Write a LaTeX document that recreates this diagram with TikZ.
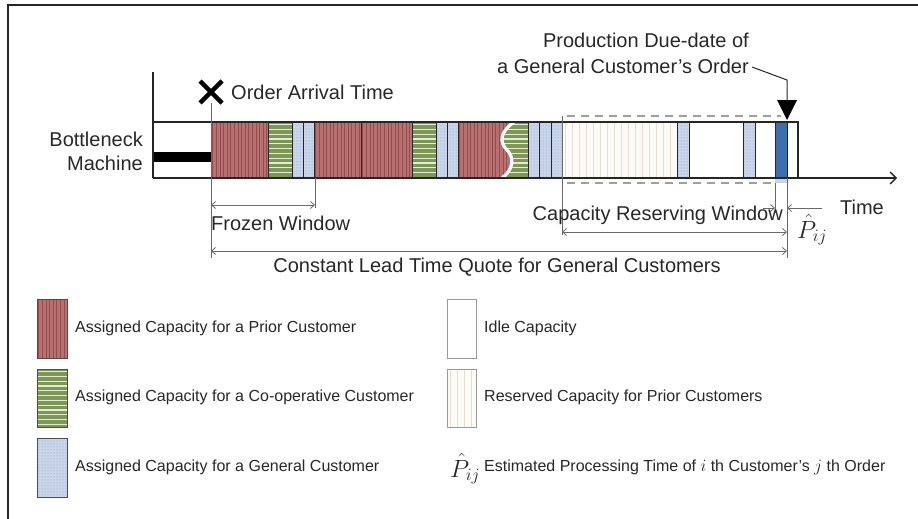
\documentclass[tikz,border=0pt]{standalone}
\usepackage{fontspec}
\setmainfont{Liberation Sans}
\usetikzlibrary{arrows.meta,patterns}
\definecolor{redF}{RGB}{184,112,112}
\definecolor{redL}{RGB}{148,76,76}
\definecolor{greenF}{RGB}{126,150,86}
\definecolor{greenL}{RGB}{226,236,210}
\definecolor{blueF}{RGB}{200,213,234}
\definecolor{blueP}{RGB}{140,158,192}
\definecolor{blueD}{RGB}{62,110,176}
\definecolor{resF}{RGB}{253,251,247}
\definecolor{resL}{RGB}{234,222,210}
\definecolor{dimc}{RGB}{105,105,105}
\definecolor{txt}{RGB}{40,40,40}
\tikzset{
  bigtxt/.style={font=\fontsize{20}{26}\selectfont, inner sep=0pt, text=txt},
  legtxt/.style={font=\fontsize{16}{19}\selectfont, inner sep=0pt, anchor=west, text=txt},
  symtxt/.style={font=\fontsize{24}{24}\selectfont, inner sep=0pt, text=txt},
  dimln/.style={draw=dimc, line width=0.8},
  dimarr/.style={dimln, {Straight Barb[length=4pt,width=7pt]}-{Straight Barb[length=4pt,width=7pt]}},
  dimto/.style={dimln, -{Straight Barb[length=4pt,width=7pt]}},
  segline/.style={draw=black!85, line width=1},
  swline/.style={draw=black!70, line width=1},
}
\newcommand\RedBox[4]{%
  \begin{scope}
    \clip (#1,#2) rectangle (#3,#4);
    \fill[redF] (#1,#2) rectangle (#3,#4);
    \foreach \kk in {0,...,17}{\draw[redL, line width=0.7] ({#1+1.8+3.6*\kk},#2) -- ({#1+1.8+3.6*\kk},#4);}
  \end{scope}}
\newcommand\GreenBox[4]{%
  \begin{scope}
    \clip (#1,#2) rectangle (#3,#4);
    \fill[greenF] (#1,#2) rectangle (#3,#4);
    \foreach \kk in {0,...,13}{\draw[greenL, line width=1.1] (#1,{#2+2.6+4.8*\kk}) -- (#3,{#2+2.6+4.8*\kk});}
  \end{scope}}
\newcommand\BlueBox[4]{%
  \fill[blueF] (#1,#2) rectangle (#3,#4);
  \fill[pattern=dots, pattern color=blueP] (#1,#2) rectangle (#3,#4);}
\newcommand\ResBox[4]{%
  \begin{scope}
    \clip (#1,#2) rectangle (#3,#4);
    \fill[resF] (#1,#2) rectangle (#3,#4);
    \foreach \kk in {0,...,17}{\draw[resL, line width=0.8] ({#1+3.5+7*\kk},#2) -- ({#1+3.5+7*\kk},#4);}
  \end{scope}}
\begin{document}
\begin{tikzpicture}[x=1pt,y=-1pt]
\useasboundingbox (0,0) rectangle (918,519);
\fill[white] (0,0) rectangle (918,519);
% frame
\draw[line width=1.6, black!85] (8,519) -- (8,5) -- (918,5);

% ---- bar segments ----
\RedBox{211}{122}{268}{178}
\GreenBox{268}{122}{292}{178}
\BlueBox{292}{122}{303}{178}
\BlueBox{303}{122}{314}{178}
\RedBox{314}{122}{361}{178}
\RedBox{361}{122}{412}{178}
\GreenBox{412}{122}{436}{178}
\BlueBox{436}{122}{447}{178}
\BlueBox{447}{122}{458}{178}
\RedBox{458}{122}{516}{178}
\begin{scope}
  \clip (514,122) .. controls (500,132) and (499,142) .. (507,150) .. controls (515,158) and (513,170) .. (502,178) -- (528,178) -- (528,122) -- cycle;
  \GreenBox{498}{122}{528}{178}
\end{scope}
\draw[white, line width=3.2] (514,122) .. controls (500,132) and (499,142) .. (507,150) .. controls (515,158) and (513,170) .. (502,178);
\BlueBox{528}{122}{539}{178}
\BlueBox{539}{122}{551}{178}
\BlueBox{551}{122}{562}{178}
\ResBox{562}{122}{677}{178}
\BlueBox{677}{122}{689}{178}
\BlueBox{743}{122}{755}{178}
\fill[blueD] (775,122) rectangle (787,178);
\fill[blueF] (775,178) rectangle (787,183);

% segment borders
\foreach \xa/\xb in {211/268,268/292,292/303,303/314,314/361,361/412,412/436,436/447,447/458,528/539,539/551,551/562,677/689,743/755,775/787}
  \draw[segline] (\xa,122) rectangle (\xb,178);
\draw[segline] (458,122) -- (458,178);
\draw[segline] (458,122) -- (528,122) (458,178) -- (528,178);

% black thick bar (before arrival)
\fill[black] (153,152) rectangle (211,162);

% bar outline and axis
\draw[line width=1.3, black!85] (153,122) -- (798,122) -- (798,178);
\coordinate (axstart) at (153,178);
\coordinate (axend) at (897,178);
\draw[line width=1.4, black!85] (153,72) -- (axstart);
\draw[line width=1.4, black!85, -{Straight Barb[length=6pt,width=12pt,line width=1.4pt]}] (axstart) -- (axend);

% dashed reserving window
\draw[gray!75, line width=1.4, dash pattern=on 8pt off 6pt] (567,116) -- (781,116);
\draw[gray!75, line width=1.4, dash pattern=on 8pt off 6pt] (567,183) -- (775,183);

% arrival marker
\coordinate (xm) at (211,92);
\draw[line width=4.5, black] (200,81) -- (222,103) (200,103) -- (222,81);
\node[bigtxt, anchor=west] (oat) at (231,92) {Order Arrival Time};

% labels of machine
\node[bigtxt, anchor=east] (bn) at (143,139) {Bottleneck};
\node[bigtxt, anchor=east] (mc) at (143,163) {Machine};

% due date
\node[bigtxt, anchor=east, align=right] (pdd) at (749,53) {Production Due-date of\\a General Customer’s Order};
\coordinate (ld) at (752,67);
\coordinate (lk) at (787,80);
\coordinate (tri) at (787,100);
\draw[line width=1, black!85] (ld) -- (lk) -- (tri);
\fill[black] (777,100) -- (797,100) -- (787,120) -- cycle;

% dimension lines
\draw[dimln] (211,103) -- (211,258);
\draw[dimln] (315,178) -- (315,208);
\draw[dimln] (562,116) -- (562,235);
\draw[dimln] (787,178) -- (787,258);
\draw[dimln] (775,183) -- (775,213);
\draw[dimarr] (211,205) -- (315,205);
\draw[dimarr] (562,232) -- (787,232);
\draw[dimarr] (211,251) -- (787,251);
\draw[dimto] (763,208) -- (775,208);
\draw[dimto] (822,208) -- (787,208);

\node[bigtxt, anchor=west] (fw) at (211,223) {Frozen Window};
\node[bigtxt, anchor=east] (crw) at (783,215) {Capacity Reserving Window};
\node[bigtxt] (cl) at (497,267) {Constant Lead Time Quote for General Customers};
\node[bigtxt] (tm) at (862,207) {Time};
\node[symtxt, anchor=west] (pij) at (797,230) {$\hat{P}_{ij}$};

% ---- legend ----
\RedBox{37}{299}{67}{358}
\draw[swline] (37,299) rectangle (67,358);
\node[legtxt] (l1) at (75,328) {Assigned Capacity for a Prior Customer};
\GreenBox{37}{369}{67}{427}
\draw[swline] (37,369) rectangle (67,427);
\node[legtxt] (l2) at (75,397) {Assigned Capacity for a Co-operative Customer};
\BlueBox{37}{438}{67}{497}
\draw[swline] (37,438) rectangle (67,497);
\node[legtxt] (l3) at (75,467) {Assigned Capacity for a General Customer};

\draw[gray!80, line width=1] (447,299) rectangle (476,358);
\node[legtxt] (l4) at (484,328) {Idle Capacity};
\ResBox{447}{369}{476}{427}
\draw[gray!80, line width=1] (447,369) rectangle (476,427);
\node[legtxt] (l5) at (484,397) {Reserved Capacity for Prior Customers};
\node[symtxt, anchor=west] (lp) at (450,469) {$\hat{P}_{ij}$};
\node[legtxt] (l6) at (484,467) {Estimated Processing Time of $i$ th Customer’s $j$ th Order};
\end{tikzpicture}
\end{document}
